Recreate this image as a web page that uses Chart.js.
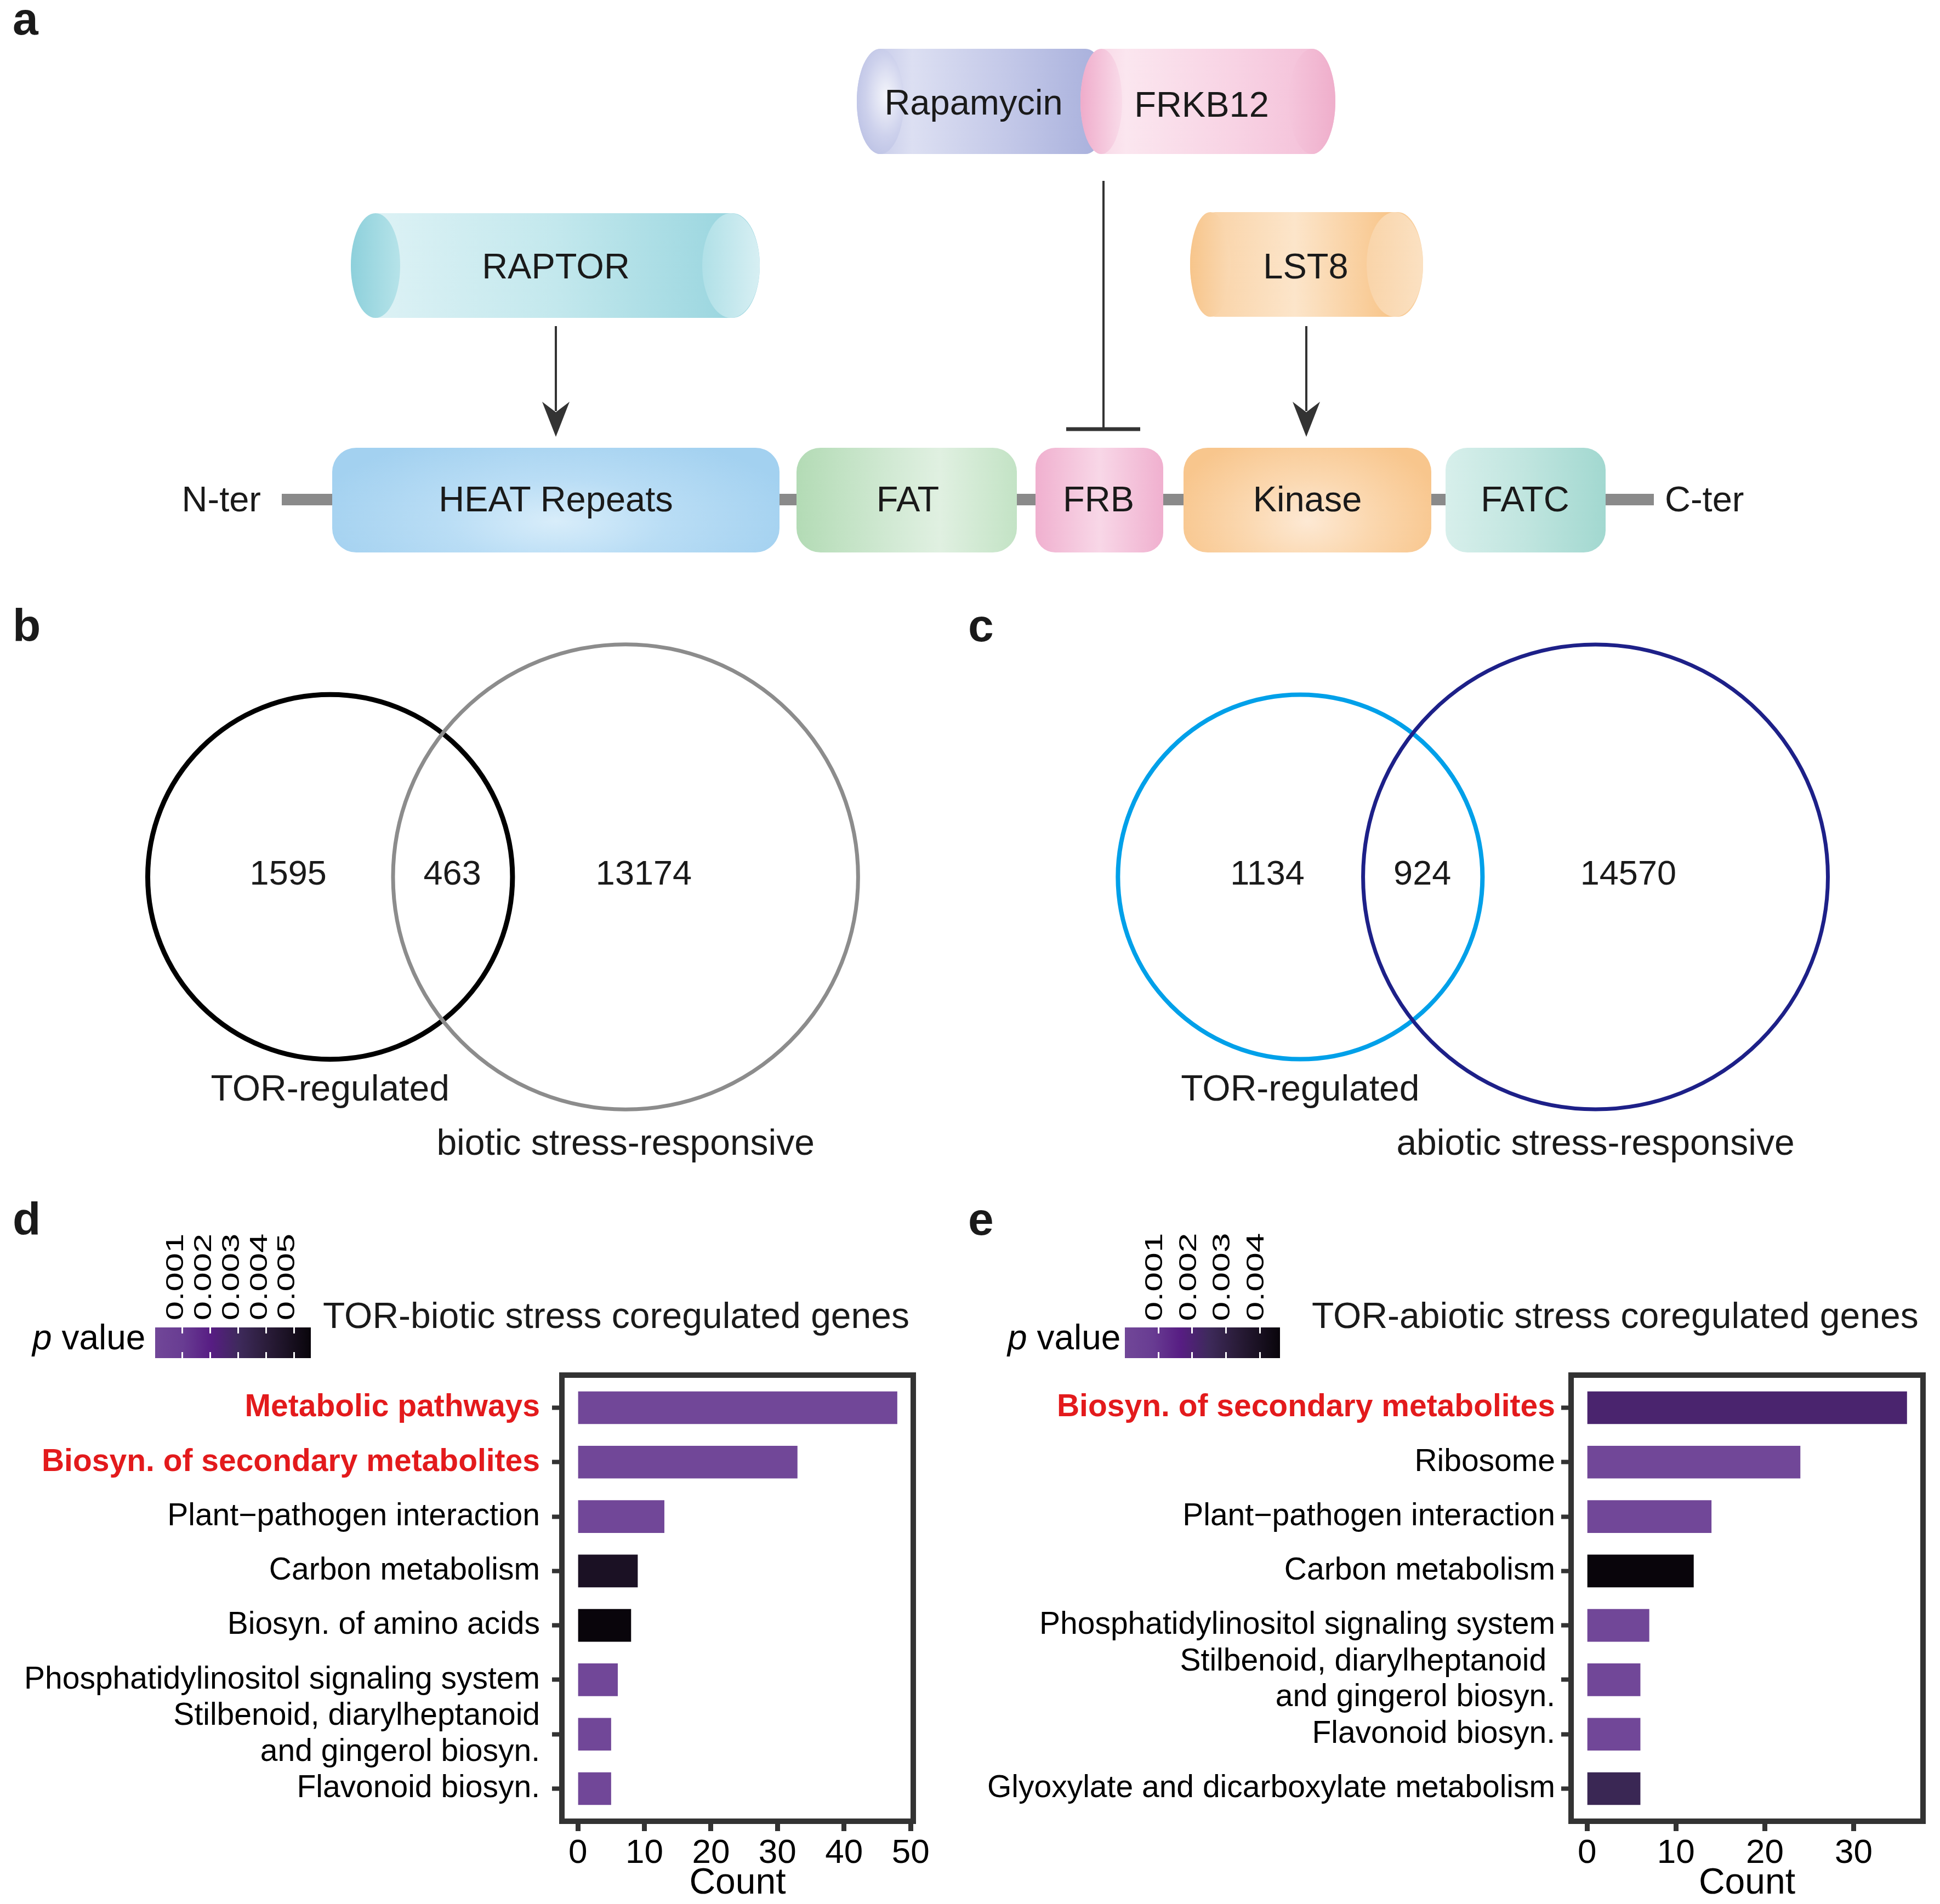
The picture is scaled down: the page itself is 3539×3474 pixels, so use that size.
<!DOCTYPE html>
<html>
<head>
<meta charset="utf-8">
<script src="https://cdn.jsdelivr.net/npm/chart.js@4.4.1/dist/chart.umd.min.js"></script>
<style>
  html, body { margin: 0; padding: 0; background: #fff; }
  #fig { position: relative; width: 3539px; height: 3474px; overflow: hidden; background: #fff;
         font-family: 'Liberation Sans', Arial, Helvetica, sans-serif; color: #1a1a1a; }
  .txt { position: absolute; white-space: pre; line-height: 1; }
  .shape { position: absolute; box-sizing: border-box; }
  canvas { position: absolute; }
</style>
</head>
<body>
<div id="fig">
  <!-- panel a: schematic -->
  <svg style="position:absolute;left:0;top:0" width="3539" height="1100">
    <rect x="514" y="901" width="2503" height="21" fill="#8a8a8a"/>
    <line x1="1014" y1="595" x2="1014" y2="750" stroke="#333" stroke-width="4"/>
    <path d="M989,733 L1014,797 L1039,733 L1014,752 Z" fill="#333"/>
    <line x1="2383" y1="595" x2="2383" y2="750" stroke="#333" stroke-width="4"/>
    <path d="M2358,733 L2383,797 L2408,733 L2383,752 Z" fill="#333"/>
    <line x1="2013" y1="330" x2="2013" y2="783" stroke="#333" stroke-width="4"/>
    <line x1="1945" y1="783" x2="2080" y2="783" stroke="#333" stroke-width="7"/>
  </svg>

  <!-- Rapamycin -->
  <div class="shape" style="left:1563px;top:89px;width:460px;height:192px;border-radius:43px/96px;background:linear-gradient(90deg,#bcc1e5 0%,#dcdff2 22%,#c3c8e8 60%,#a6aedb 100%)"></div>
  <div class="shape" style="left:1563px;top:89px;width:86px;height:192px;border-radius:50%;background:radial-gradient(ellipse at 62% 45%,#f4f5fb 0%,#cdd1ec 50%,#b1b8e0 100%)"></div>
  <!-- FRKB12 -->
  <div class="shape" style="left:1971px;top:89px;width:465px;height:192px;border-radius:43px/96px;background:linear-gradient(90deg,#f6cfe1 0%,#fbe6ef 18%,#f8d3e4 60%,#f3bcd6 100%)"></div>
  <div class="shape" style="left:1971px;top:89px;width:76px;height:192px;border-radius:50%;background:linear-gradient(90deg,#efaccb,#f9dbe9)"></div>
  <div class="shape" style="left:2351px;top:89px;width:85px;height:192px;border-radius:50%;background:linear-gradient(90deg,#f5c6dc,#efaecb)"></div>
  <!-- RAPTOR -->
  <div class="shape" style="left:640px;top:389px;width:746px;height:191px;border-radius:50px/95px;background:linear-gradient(90deg,#e0f3f6 0%,#c3e8ed 50%,#94d3dd 100%)"></div>
  <div class="shape" style="left:640px;top:389px;width:90px;height:191px;border-radius:50%;background:linear-gradient(90deg,#8dd0db,#b6e3e9)"></div>
  <div class="shape" style="left:1281px;top:389px;width:105px;height:191px;border-radius:50%;background:linear-gradient(90deg,#b0e0e7,#d7eff3)"></div>
  <!-- LST8 -->
  <div class="shape" style="left:2171px;top:387px;width:425px;height:191px;border-radius:46px/95px;background:linear-gradient(90deg,#f9cf9f 0%,#fce5ca 45%,#f8c68c 85%,#f9d3a6 100%)"></div>
  <div class="shape" style="left:2171px;top:387px;width:74px;height:191px;border-radius:50%;background:linear-gradient(90deg,#f7c58b,#fad9b3)"></div>
  <div class="shape" style="left:2493px;top:387px;width:103px;height:191px;border-radius:50%;background:linear-gradient(90deg,#f9d4a9,#fbe1c2)"></div>

  <!-- domains -->
  <div class="shape" style="left:606px;top:817px;width:816px;height:191px;border-radius:44px;background:radial-gradient(ellipse 55% 90% at 50% 70%,#d8edfa 0%,#b9ddf5 45%,#a3d1f0 100%)"></div>
  <div class="shape" style="left:1453px;top:817px;width:402px;height:191px;border-radius:44px;background:linear-gradient(90deg,#b3dbb5 0%,#d3ead5 45%,#e0f0e1 65%,#c3e3c5 100%)"></div>
  <div class="shape" style="left:1889px;top:817px;width:233px;height:191px;border-radius:36px;background:linear-gradient(90deg,#f0b0cf 0%,#f8d7e7 50%,#f0b0cf 100%)"></div>
  <div class="shape" style="left:2159px;top:817px;width:452px;height:191px;border-radius:44px;background:radial-gradient(ellipse 55% 90% at 50% 70%,#fde9d4 0%,#fbd8b0 45%,#f8c68d 100%)"></div>
  <div class="shape" style="left:2637px;top:817px;width:292px;height:191px;border-radius:40px;background:linear-gradient(90deg,#d7efeb 0%,#c0e5df 50%,#a2d8d0 100%)"></div>

  <canvas id="vennB" style="left:0;top:1100px" width="1770" height="1050"></canvas>
  <canvas id="vennC" style="left:1770px;top:1100px" width="1769" height="1050"></canvas>
  <canvas id="barD" style="left:0;top:2480px" width="1770" height="994"></canvas>
  <canvas id="barE" style="left:1770px;top:2480px" width="1769" height="994"></canvas>
</div>

<script>
const FONT = "'Liberation Sans', Arial, Helvetica, sans-serif";
Chart.defaults.font.family = FONT;

// ---- data ----
const vennBCounts = [1595, 463, 13174];
const vennBSets = ['TOR-regulated', 'biotic stress-responsive'];
const vennCCounts = [1134, 924, 14570];
const vennCSets = ['TOR-regulated', 'abiotic stress-responsive'];

const dPathways = ['Metabolic pathways', 'Biosyn. of secondary metabolites', 'Plant\u2212pathogen interaction',
  'Carbon metabolism', 'Biosyn. of amino acids', 'Phosphatidylinositol signaling system',
  ['Stilbenoid, diarylheptanoid', 'and gingerol biosyn.'], 'Flavonoid biosyn.'];
const dCounts = [48, 33, 13, 9, 8, 6, 5, 5];
const dPValues = [0.00002, 0.00003, 0.00004, 0.00476, 0.0056, 0.00003, 0.00005, 0.00006];
const dHighlighted = ['Metabolic pathways', 'Biosyn. of secondary metabolites'];
const dCountTicks = [0, 10, 20, 30, 40, 50];
const dPTicks = [0.001, 0.002, 0.003, 0.004, 0.005];

const ePathways = ['Biosyn. of secondary metabolites', 'Ribosome', 'Plant\u2212pathogen interaction',
  'Carbon metabolism', 'Phosphatidylinositol signaling system',
  ['Stilbenoid, diarylheptanoid ', 'and gingerol biosyn.'], 'Flavonoid biosyn.',
  'Glyoxylate and dicarboxylate metabolism'];
const eCounts = [36, 24, 14, 12, 7, 6, 6, 6];
const ePValues = [0.0021, 0.00002, 0.00003, 0.0046, 0.00002, 0.00003, 0.00001, 0.00267];
const eHighlighted = ['Biosyn. of secondary metabolites'];
const eCountTicks = [0, 10, 20, 30];
const ePTicks = [0.001, 0.002, 0.003, 0.004];

// ---- helpers ----
const fig = document.getElementById('fig');
function addText(html, x, y, size, o = {}) {
  const el = document.createElement('div');
  el.className = 'txt';
  el.innerHTML = html;
  el.style.left = x + 'px';
  el.style.top = y + 'px';
  el.style.fontSize = size + 'px';
  if (o.bold) el.style.fontWeight = 'bold';
  if (o.color) el.style.color = o.color;
  const a = o.anchor || 'center';
  const tx = a === 'left' ? '0' : a === 'right' ? '-100%' : '-50%';
  el.style.transform = 'translate(' + tx + ',-50%)' + (o.extra || '');
  fig.appendChild(el);
  return el;
}

// p value colour scale (light purple -> black)
const pStops = [[0, [113, 71, 152]], [0.18, [104, 60, 146]], [0.36, [87, 29, 131]],
  [0.54, [62, 42, 91]], [0.72, [42, 28, 57]], [1, [9, 5, 11]]];
function scaleColor(t) {
  t = Math.max(0, Math.min(1, t));
  for (let i = 1; i < pStops.length; i++) {
    if (t <= pStops[i][0]) {
      const [t0, c0] = pStops[i - 1], [t1, c1] = pStops[i];
      const f = (t - t0) / (t1 - t0);
      const c = c0.map((v, k) => Math.round(v + (c1[k] - v) * f));
      return 'rgb(' + c.join(',') + ')';
    }
  }
  return 'rgb(9,5,11)';
}
const gradientCss = 'linear-gradient(90deg,' +
  pStops.map(s => 'rgb(' + s[1].join(',') + ') ' + (s[0] * 100) + '%').join(',') + ')';

// panel letters
addText('a', 23, 34, 84, {bold: true, anchor: 'left'});
addText('b', 23, 1141, 84, {bold: true, anchor: 'left'});
addText('c', 1766, 1141, 84, {bold: true, anchor: 'left'});
addText('d', 23, 2224, 84, {bold: true, anchor: 'left'});
addText('e', 1766, 2224, 84, {bold: true, anchor: 'left'});

// panel a labels
[['Rapamycin', 1776, 186], ['FRKB12', 2192, 190], ['RAPTOR', 1014, 485], ['LST8', 2382, 485],
 ['HEAT Repeats', 1014, 910], ['FAT', 1656, 910], ['FRB', 2004, 910], ['Kinase', 2385, 910],
 ['FATC', 2782, 910]].forEach(([s, x, y]) => addText(s, x, y, 65));
addText('N-ter', 476, 910, 65, {anchor: 'right'});
addText('C-ter', 3037, 910, 65, {anchor: 'left'});

// ---- Venn panels ----
const vennView = {xMin: -1.81, xMax: 3.51, yMin: -1.65, yMax: 1.50};
const vennCircles = [{x: 0, y: 0, r: 1}, {x: 1.62, y: 0, r: 1.275}];

const vennTextPlugin = {
  id: 'vennText',
  afterDatasetsDraw(chart, args, opts) {
    const {ctx, scales: {x, y}} = chart;
    ctx.save();
    ctx.fillStyle = '#1a1a1a';
    ctx.textAlign = 'center';
    ctx.textBaseline = 'middle';
    ctx.font = '63px ' + FONT;
    opts.counts.forEach((c, i) => ctx.fillText(String(c),
      x.getPixelForValue(opts.countPos[i][0]), y.getPixelForValue(opts.countPos[i][1])));
    ctx.font = '66px ' + FONT;
    opts.sets.forEach((s, i) => ctx.fillText(s,
      x.getPixelForValue(opts.setPos[i][0]), y.getPixelForValue(opts.setPos[i][1])));
    ctx.restore();
  }
};

function makeVenn(id, counts, sets, colors, widths, countPos, setPos) {
  new Chart(document.getElementById(id), {
    type: 'scatter',
    data: {
      datasets: [{
        data: vennCircles.map(c => ({x: c.x, y: c.y})),
        pointRadius: ctx => {
          const s = ctx.chart.scales.x;
          return Math.abs(s.getPixelForValue(vennCircles[ctx.dataIndex].r) - s.getPixelForValue(0));
        },
        pointStyle: 'circle',
        backgroundColor: 'rgba(0,0,0,0)',
        borderColor: colors,
        borderWidth: widths,
        clip: false
      }]
    },
    options: {
      responsive: false, animation: false, devicePixelRatio: 1, events: [],
      layout: {padding: 0},
      plugins: {legend: {display: false}, tooltip: {enabled: false},
        vennText: {counts, sets, countPos, setPos}},
      scales: {
        x: {type: 'linear', min: vennView.xMin, max: vennView.xMax, display: false},
        y: {type: 'linear', min: vennView.yMin, max: vennView.yMax, display: false}
      }
    },
    plugins: [vennTextPlugin]
  });
}

makeVenn('vennB', vennBCounts, vennBSets, ['#000000', '#8c8c8c'], [9, 7],
  [[-0.23, 0.01], [0.67, 0.01], [1.72, 0.01]], [[0, -1.17], [1.62, -1.465]]);
makeVenn('vennC', vennCCounts, vennCSets, ['#00a0e9', '#1d2088'], [8, 7],
  [[-0.18, 0.01], [0.67, 0.01], [1.80, 0.01]], [[0, -1.17], [1.62, -1.465]]);

// ---- enrichment bar panels ----
const boxPlugin = {
  id: 'panelBox',
  afterDatasetsDraw(chart) {
    const {ctx, chartArea: a} = chart;
    ctx.save();
    ctx.strokeStyle = '#333';
    ctx.lineWidth = 10;
    ctx.strokeRect(a.left, a.top, a.right - a.left, a.bottom - a.top);
    ctx.restore();
  }
};

function makeBarPanel(cfg) {
  const n = cfg.counts.length;
  const maxC = Math.max(...cfg.counts);
  const pMin = Math.min(...cfg.pValues), pMax = Math.max(...cfg.pValues);
  const colors = cfg.pValues.map(p => scaleColor((p - pMin) / (pMax - pMin)));
  const labelText = l => Array.isArray(l) ? l.join(' ').trim() : l;
  const isHi = i => cfg.highlighted.includes(labelText(cfg.pathways[i]));

  new Chart(document.getElementById(cfg.id), {
    type: 'bar',
    data: {
      datasets: [{
        data: cfg.counts.map((c, i) => ({x: c, y: i})),
        backgroundColor: colors,
        borderWidth: 0,
        barPercentage: 0.6,
        categoryPercentage: 1
      }]
    },
    options: {
      indexAxis: 'y',
      responsive: false, animation: false, devicePixelRatio: 1, events: [],
      layout: {padding: {top: cfg.padTop, right: cfg.padRight, bottom: 0, left: 0}},
      plugins: {legend: {display: false}, tooltip: {enabled: false}},
      scales: {
        x: {
          type: 'linear', position: 'bottom',
          min: -0.05 * maxC, max: maxC * 1.05,
          afterBuildTicks: s => { s.ticks = cfg.countTicks.map(v => ({value: v})); },
          afterFit: s => { s.height = cfg.xAxisHeight; s.paddingLeft = 0; s.paddingRight = 0; },
          border: {display: false},
          grid: {drawOnChartArea: false, drawTicks: true, tickLength: 18, tickWidth: 9, tickColor: '#333', offset: false},
          ticks: {font: {size: 62}, color: '#000', padding: 4, maxRotation: 0, autoSkip: false},
          title: {display: true, text: 'Count', color: '#000', font: {size: 66, lineHeight: 1}, padding: {top: 0, bottom: 4}}
        },
        y: {
          type: 'linear', position: 'left', reverse: true, offset: false,
          min: -0.6, max: n - 1 + 0.6,
          afterBuildTicks: s => { s.ticks = cfg.pathways.map((_, i) => ({value: i})); },
          afterFit: s => { s.width = cfg.yAxisWidth; s.paddingTop = 0; s.paddingBottom = 0; },
          border: {display: false},
          grid: {drawOnChartArea: false, drawTicks: true, tickLength: 18, tickWidth: 8, tickColor: '#333', offset: false},
          ticks: {
            autoSkip: false, padding: cfg.labelPad,
            callback: v => cfg.pathways[v],
            color: c => isHi(c.index) ? '#e31a1c' : '#000',
            font: c => ({size: 57, weight: isHi(c.index) ? 'bold' : 'normal', lineHeight: 1.15})
          }
        }
      }
    },
    plugins: [boxPlugin]
  });

  // p value colour bar legend
  const bar = document.createElement('div');
  bar.className = 'shape';
  Object.assign(bar.style, {left: cfg.legend.left + 'px', top: '2422px', width: cfg.legend.width + 'px',
    height: '56px', background: gradientCss});
  fig.appendChild(bar);
  cfg.pTicks.forEach(v => {
    const x = cfg.legend.left + (v - pMin) / (pMax - pMin) * cfg.legend.width;
    ['2422px', '2467px'].forEach(top => {
      const t = document.createElement('div');
      t.className = 'shape';
      Object.assign(t.style, {left: (x - 1.5) + 'px', top, width: '3px', height: '11px', background: '#fff'});
      fig.appendChild(t);
    });
    addText(v.toFixed(3), x - cfg.legend.labelShift, cfg.legend.labelY, 44,
      {color: '#000', extra: ' rotate(-90deg) scaleX(' + cfg.legend.stretch + ')'});
  });
  addText('<i>p</i> value', cfg.legend.pLeft, 2440, 64, {anchor: 'left', color: '#000'});
  addText(cfg.title, cfg.titleLeft, 2400, 66, {anchor: 'left', color: '#1a1a1a'});
}

makeBarPanel({
  id: 'barD', pathways: dPathways, counts: dCounts, pValues: dPValues, highlighted: dHighlighted,
  countTicks: dCountTicks, pTicks: dPTicks,
  padTop: 29, padRight: 104, yAxisWidth: 1025, xAxisHeight: 151, labelPad: 22,
  legend: {left: 283, width: 284, labelShift: 14, labelY: 2330, stretch: 1.44, pLeft: 59},
  title: 'TOR-biotic stress coregulated genes', titleLeft: 589
});
makeBarPanel({
  id: 'barE', pathways: ePathways, counts: eCounts, pValues: ePValues, highlighted: eHighlighted,
  countTicks: eCountTicks, pTicks: ePTicks,
  padTop: 29, padRight: 31, yAxisWidth: 1096, xAxisHeight: 151, labelPad: 11,
  legend: {left: 2052, width: 283, labelShift: 8, labelY: 2330, stretch: 1.46, pLeft: 1838},
  title: 'TOR-abiotic stress coregulated genes', titleLeft: 2393
});
</script>
</body>
</html>
